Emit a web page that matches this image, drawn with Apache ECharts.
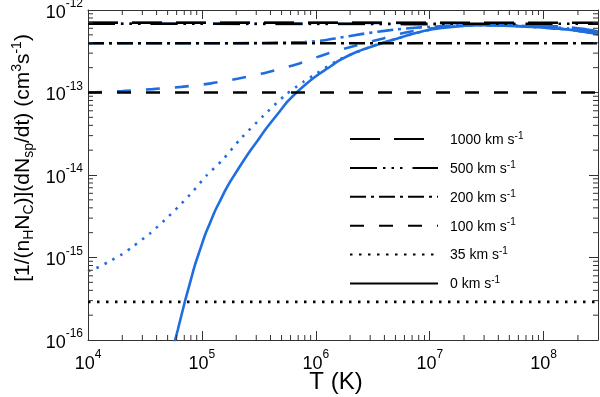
<!DOCTYPE html>
<html>
<head>
<meta charset="utf-8">
<script src="https://cdn.jsdelivr.net/npm/echarts@6/dist/echarts.min.js"></script>
<style>
  html, body { margin: 0; padding: 0; background: #fff; }
  #chart { width: 600px; height: 397px; }
</style>
</head>
<body>
<div id="chart"></div>
<script>
// axis range
const T_MIN = 1e4, T_MAX = 3e8
const R_MIN = 1e-16, R_MAX = 1e-12

// legend / velocities
const VELOCITIES = ['1000', '500', '200', '100', '35', '0']
// flat (black) rates for each velocity, 0 km/s has none
const FLAT_RATES = [7.0e-13, 6.8e-13, 3.95e-13, 1.0e-13, 2.9e-16]

// blue curves, T (K) and rate
const T_V0 = [5.455e4, 6.16e4, 7.1e4, 7.85e4, 8.68e4, 9.6e4, 1.063e5, 1.176e5, 1.3e5, 1.438e5, 1.591e5, 1.76e5, 1.948e5, 2.243e5, 2.637e5, 3.099e5, 3.569e5, 4.111e5, 4.833e5, 5.681e5, 6.813e5, 8.172e5, 1e6, 1.274e6, 1.624e6, 2.243e6, 3.162e6, 4.03e6, 5.135e6, 7.385e6, 1.063e7, 1.657e7, 2.584e7, 3.87e7, 5.797e7, 9.6e7, 1.591e8, 2.198e8, 3e8]
const R_V0 = [7.11e-17, 1.35e-16, 2.95e-16, 4.88e-16, 8.07e-16, 1.226e-15, 1.864e-15, 2.604e-15, 3.64e-15, 4.81e-15, 6.36e-15, 8.18e-15, 1.023e-14, 1.39e-14, 1.943e-14, 2.642e-14, 3.49e-14, 4.49e-14, 5.93e-14, 7.84e-14, 1.008e-13, 1.26e-13, 1.576e-13, 1.97e-13, 2.462e-13, 3.08e-13, 3.64e-13, 4.07e-13, 4.49e-13, 5.23e-13, 5.85e-13, 6.27e-13, 6.54e-13, 6.51e-13, 6.36e-13, 6.13e-13, 5.8e-13, 5.49e-13, 5.09e-13]

const T_V35 = [1e4, 1.25e4, 1.5e4, 2e4, 2.5e4, 3.5e4, 4.7e4, 6.3e4, 8.4e4, 1.1e5, 1.5e5, 2.2e5, 3.5e5, 5.4e5, 7.8e5, 1e6, 1.6e6, 3.16e6, 5.14e6, 1.06e7, 2.58e7, 5.79e7, 1.59e8, 3e8]
const R_V35 = [6.8e-16, 7.7e-16, 8.8e-16, 1.1e-15, 1.37e-15, 1.96e-15, 2.83e-15, 4.2e-15, 6.4e-15, 9.9e-15, 1.5e-14, 2.77e-14, 5.3e-14, 9.3e-14, 1.35e-13, 1.68e-13, 2.5e-13, 3.66e-13, 4.5e-13, 5.86e-13, 6.55e-13, 6.38e-13, 5.82e-13, 5.1e-13]

const T_V100 = [1e4, 2e4, 3.7e4, 6.6e4, 1.2e5, 2.1e5, 3.7e5, 6.7e5, 1.2e6, 2.3e6, 3.9e6, 6e6, 1e7, 1.5e7, 2.5e7, 4e7, 6e7, 1e8, 1.6e8, 2.2e8, 3e8]
const R_V100 = [1.0e-13, 1.04e-13, 1.1e-13, 1.17e-13, 1.29e-13, 1.48e-13, 1.75e-13, 2.19e-13, 2.89e-13, 3.74e-13, 4.52e-13, 5.3e-13, 5.95e-13, 6.3e-13, 6.55e-13, 6.55e-13, 6.4e-13, 6.1e-13, 5.8e-13, 5.5e-13, 5.15e-13]

const T_V200 = [1e4, 1e5, 3e5, 8e5, 1.2e6, 1.6e6, 2.5e6, 3.5e6, 5e6, 7e6, 1e7, 1.5e7, 2.5e7, 4e7, 6e7, 1e8, 1.6e8, 2.2e8, 3e8]
const R_V200 = [3.95e-13, 3.95e-13, 3.98e-13, 4.1e-13, 4.3e-13, 4.6e-13, 5.1e-13, 5.45e-13, 5.8e-13, 6.05e-13, 6.25e-13, 6.45e-13, 6.6e-13, 6.6e-13, 6.45e-13, 6.15e-13, 5.85e-13, 5.55e-13, 5.2e-13]

const T_V500 = [1e4, 1e5, 1e6, 3e6, 6e6, 1e7, 1.5e7, 2.5e7, 4e7, 6e7, 1e8, 1.6e8, 2.2e8, 3e8]
const R_V500 = [6.8e-13, 6.8e-13, 6.78e-13, 6.75e-13, 6.7e-13, 6.68e-13, 6.68e-13, 6.7e-13, 6.68e-13, 6.55e-13, 6.3e-13, 6.0e-13, 5.7e-13, 5.35e-13]

const T_V1000 = [1e4, 1e5, 1e6, 1e7, 2e7, 4e7, 6e7, 1e8, 1.6e8, 2.2e8, 3e8]
const R_V1000 = [7.0e-13, 7.0e-13, 7.0e-13, 6.95e-13, 6.9e-13, 6.8e-13, 6.7e-13, 6.5e-13, 6.2e-13, 5.9e-13, 5.5e-13]

const BLUE = '#1f6ee0'
// dash pattern per velocity
const DASH = {
  '1000': [30, 14],
  '500': [27, 6, 2.5, 6, 2.5, 6, 2.5, 10],
  '200': [16, 5, 3, 5],
  '100': [14, 15],
  '35': [2.5, 6.5],
  '0': 'solid'
}

function pairs(xs, ys) {
  return xs.map((x, i) => [x, ys[i]])
}

// minor ticks (2..9 per decade)
const X_MINOR = []
for (let e = 4; e <= 8; e++) for (let m = 2; m <= 9; m++) if (m * Math.pow(10, e) < T_MAX) X_MINOR.push(m * Math.pow(10, e))
const Y_MINOR = []
for (let e = -16; e <= -13; e++) for (let m = 2; m <= 9; m++) Y_MINOR.push(m * Math.pow(10, e))

const chart = echarts.init(document.getElementById('chart'), null, { renderer: 'canvas' })

function powLabel(v) {
  const e = Math.log10(v)
  if (Math.abs(e - Math.round(e)) > 0.01) return ''
  return '{b|10}{s|' + Math.round(e) + '}'
}

const tickRich = {
  b: { fontSize: 18, fontFamily: 'Liberation Sans', color: '#000', lineHeight: 24, verticalAlign: 'bottom' },
  s: { fontSize: 12, fontFamily: 'Liberation Sans', color: '#000', lineHeight: 14, verticalAlign: 'top' }
}

const axisColor = '#333'

function logAxis(min, max, extra) {
  return Object.assign({
    type: 'log',
    logBase: 10,
    min: min,
    max: max,
    splitNumber: 4,
    splitLine: { show: false },
    axisLine: { show: true, lineStyle: { color: axisColor, width: 1 } },
    axisTick: { show: true, inside: true, length: 9, lineStyle: { color: axisColor } },
    minorTick: { show: false }
  }, extra)
}

const blueCurves = [
  ['1000', T_V1000, R_V1000],
  ['500', T_V500, R_V500],
  ['200', T_V200, R_V200],
  ['100', T_V100, R_V100],
  ['35', T_V35, R_V35],
  ['0', T_V0, R_V0]
]

const series = []

blueCurves.forEach(([v, xs, ys]) => {
  series.push({
    name: 'blue' + v,
    type: 'line',
    data: pairs(xs, ys),
    symbol: 'none',
    smooth: 0.25,
    z: 2,
    lineStyle: { color: BLUE, width: 2.6, type: DASH[v] },
    silent: true
  })
})

VELOCITIES.forEach((v, i) => {
  const r = FLAT_RATES[i]
  series.push({
    name: v,
    type: 'line',
    data: r === undefined ? [] : [[T_MIN, r], [T_MAX, r]],
    symbol: 'none',
    z: 3,
    lineStyle: { color: '#000', width: 2.6, type: DASH[v] },
    itemStyle: { color: '#000' },
    silent: true
  })
})

// minor ticks drawn through the axis scales
series.push({
  type: 'custom',
  silent: true,
  z: 4,
  clip: false,
  data: X_MINOR.map(t => [t, R_MIN]),
  renderItem: function (params, api) {
    const cs = params.coordSys
    const x = api.coord([api.value(0), R_MIN])[0]
    const st = { stroke: axisColor, lineWidth: 1 }
    return {
      type: 'group',
      children: [
        { type: 'line', shape: { x1: x, y1: cs.y + cs.height, x2: x, y2: cs.y + cs.height - 5 }, style: st },
        { type: 'line', shape: { x1: x, y1: cs.y, x2: x, y2: cs.y + 5 }, style: st }
      ]
    }
  }
})
series.push({
  type: 'custom',
  silent: true,
  z: 4,
  clip: false,
  data: Y_MINOR.map(r => [T_MIN, r]),
  renderItem: function (params, api) {
    const cs = params.coordSys
    const y = api.coord([T_MIN, api.value(1)])[1]
    const st = { stroke: axisColor, lineWidth: 1 }
    return {
      type: 'group',
      children: [
        { type: 'line', shape: { x1: cs.x, y1: y, x2: cs.x + 5, y2: y }, style: st },
        { type: 'line', shape: { x1: cs.x + cs.width, y1: y, x2: cs.x + cs.width - 5, y2: y }, style: st }
      ]
    }
  }
})

chart.setOption({
  animation: false,
  backgroundColor: '#fff',
  grid: { left: 88, right: 2, top: 10, bottom: 57, containLabel: false, outerBoundsMode: 'none' },
  legend: {
    data: VELOCITIES,
    orient: 'vertical',
    left: 344,
    top: 126,
    itemWidth: 88,
    itemHeight: 16,
    itemGap: 12.9,
    selectedMode: false,
    itemStyle: { opacity: 0 },
    formatter: function (name) {
      return '{t|' + name + ' km s}{s|-1}'
    },
    textStyle: {
      padding: [0, 0, 0, 7],
      rich: {
        t: { fontSize: 14, fontFamily: 'Liberation Sans', color: '#000', lineHeight: 16, verticalAlign: 'bottom' },
        s: { fontSize: 10, fontFamily: 'Liberation Sans', color: '#000', lineHeight: 10, verticalAlign: 'top' }
      }
    }
  },
  xAxis: [
    logAxis(T_MIN, T_MAX, {
      position: 'bottom',
      name: 'T (K)',
      nameLocation: 'middle',
      nameGap: 30,
      nameMoveOverlap: false,
      nameTextStyle: { fontSize: 24, fontFamily: 'Liberation Sans', color: '#000', padding: [0, 14, 0, 0] },
      axisLabel: { margin: 9, formatter: powLabel, rich: tickRich }
    }),
    logAxis(T_MIN, T_MAX, { position: 'top', axisLabel: { show: false } })
  ],
  yAxis: [
    logAxis(R_MIN, R_MAX, {
      position: 'left',
      name: '{m|[1/(n}{d|H}{m|N}{d|C}{m|)](dN}{d|sp}{m|/dt) (cm}{u|3}{m|s}{u|-1}{m|)}',
      nameLocation: 'middle',
      nameRotate: 90,
      nameGap: 52,
      nameMoveOverlap: false,
      nameTextStyle: {
        padding: [0, 0, 0, 34],
        rich: {
          m: { fontSize: 21, fontFamily: 'Liberation Sans', color: '#000', lineHeight: 26 },
          d: { fontSize: 14, fontFamily: 'Liberation Sans', color: '#000', lineHeight: 14, verticalAlign: 'bottom' },
          u: { fontSize: 14, fontFamily: 'Liberation Sans', color: '#000', lineHeight: 14, verticalAlign: 'top' }
        }
      },
      axisLabel: { margin: 5, formatter: powLabel, rich: tickRich }
    }),
    logAxis(R_MIN, R_MAX, { position: 'right', axisLabel: { show: false } })
  ],
  series: series
})
</script>
</body>
</html>
